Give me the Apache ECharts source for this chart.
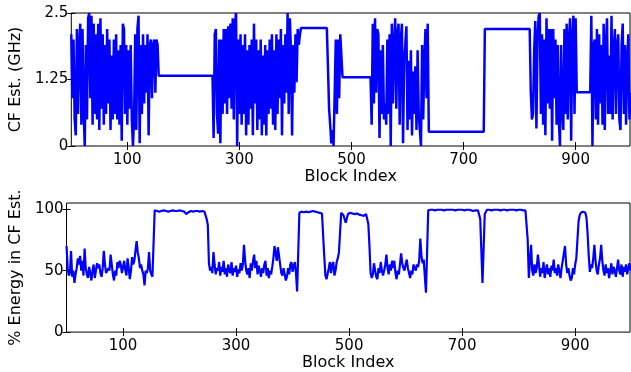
<!DOCTYPE html>
<html>
<head>
<meta charset="utf-8">
<script src="https://cdn.jsdelivr.net/npm/echarts@6/dist/echarts.min.js"></script>
<style>
html,body{margin:0;padding:0;background:#fff;}
#chart{width:631px;height:372px;}
</style>
</head>
<body>
<div id="chart"></div>
<script>
// ================= data =================
const xTickValues = [100, 300, 500, 700, 900];
const cfTickValues = [0, 1.25, 2.5];
const energyTickValues = [0, 50, 100];

// ---- CF estimate (GHz) ----
// noisy stretches: one value every 2 blocks from the given start block
const cfNoiseStart = [0, 254, 458, 536, 820, 928];
const cfNoise1 = [
  2.1,0.9,2.0,0.5,0.2,2.2,0.6,1.9,2.3,0.4, 2.2,0.7,0.0,1.9,0.5,2.4,2.5,0.9,2.45,0.4,
  2.3,0.6,2.1,0.5,2.3,0.3,2.4,0.7,2.1,0.4, 1.9,0.6,2.2,0.8,2.0,0.3,1.7,0.5,2.0,0.6,
  2.1,0.5,1.8,0.4,1.9,0.1,2.3,2.2,0.6,1.9, 0.4,1.8,0.7,1.9,0.5,0.0,0.5,2.1,0.3,2.2,
  2.45,0.05,1.9,0.6,2.1,0.8,1.9,1.0,2.1,0.2, 1.9,2.0,0.9,1.9,2.0,1.0,2.0,1.9
];
const cfNoise2 = [
  0.15,2.1,2.2,0.6,0.23,2.0,0.05,2.0,0.6,2.2, 0.8,2.2,0.6,2.25,0.9,2.3,0.7,2.4,0.5,2.3,
  2.5,0.0,2.0,0.6,2.1,0.4,1.9,0.6,2.1,0.2, 1.8,0.4,1.9,0.7,2.0,0.2,2.3,0.8,2.0,0.3,
  1.8,0.5,2.0,0.2,1.7,0.4,1.9,0.2,1.8,0.6, 2.0,0.7,2.1,0.4,1.8,0.3,2.1,0.6,2.0,0.9,
  2.2,0.2,1.9,0.8,2.1,1.0,2.5,0.6,2.4,1.8, 0.2,1.9,1.0,2.1,1.2,2.2,1.9,2.1
];
const cfNoise3 = [1.5,0.7,0.4,0.05,0.3,0.0,1.0,2.0,0.6,2.0,0.9,2.1,2.1];
const cfNoise4 = [
  0.4,2.3,0.8,2.4,1.0,2.2,2.1,0.15,1.8,0.6, 1.9,0.5,0.8,0.4,2.0,0.6,2.1,0.0,2.3,0.8,
  1.9,2.4,0.7,2.1,2.3,0.4,2.0,2.3,0.05,1.6, 1.9,2.25,0.3,1.6,0.5,1.8,0.2,1.4,0.6,1.5,
  0.3,1.8,0.6,0.3,0.0,1.9,0.5,1.6,2.2,0.9, 2.3
];
const cfNoise5 = [
  1.0,0.5,0.6,1.8,2.35,0.33,2.0,2.45,2.5,0.6, 2.1,0.4,2.0,0.2,2.4,0.8,2.2,0.7,2.2,0.1,
  2.2,0.9,2.0,0.4,1.9,0.5,0.0,1.9,0.7,0.3, 2.2,0.6,2.3,0.5,2.0,2.4,0.1,2.0,2.45,0.6,
  2.4
];
const cfNoise6 = [
  2.45,0.0,1.9,2.0,0.5,2.2,0.4,2.1,0.8,1.9, 0.4,2.3,0.3,1.9,2.4,0.6,1.7,0.6,2.45,0.5,
  1.8,2.2,0.6,1.9,2.1,0.5,0.3,1.9,2.3,0.6, 1.9,0.4,1.6,2.1,0.5,1.0
];
// constant stretches: [first block, last block, level]
const cfFlatStart = [156, 410, 484, 638, 738, 902];
const cfFlatEnd   = [252, 456, 534, 736, 818, 926];
const cfFlatLevel = [1.32, 2.22, 1.29, 0.27, 2.2, 1.01];

// ---- % energy in CF estimate ----
// noisy stretches, one value every 2 blocks
const enNoiseStart = [0, 250, 456, 534, 816];
const enNoise1 = [
  70,52,46,48,66,45,50,40,47,52, 60,55,62,50,58,46,68,52,47,44,
  53,48,42,50,55,44,50,56,52,55, 48,45,52,66,55,48,47,52,50,63,
  55,47,42,50,46,57,52,58,55,48, 53,58,50,46,60,52,43,50,61,55,
  58,66,74,65,60,52,55,50,47,38, 50,48,52,65,50,47,45,46
];
const enNoise2 = [
  87,56,50,53,48,65,55,47,52,50, 57,46,53,49,58,47,52,45,55,50,
  48,57,46,52,49,54,45,51,48,56, 50,55,71,58,50,47,52,44,56,50,
  58,63,52,58,47,54,50,45,52,48, 55,58,46,52,44,50,47,53,60,70,
  64,58,69,70,55,48,46,52,47,42, 45,52,47,55,57,49,54,57,48,33
];
const enNoise3 = [62,46,43,44,52,57,48,55,57,46,50,57,60,65,81,97];
const enNoise4 = [
  88,70,48,44,47,56,50,45,43,52, 48,57,50,46,50,55,63,52,47,55,
  50,58,52,58,48,43,50,47,55,64, 56,52,50,55,59,52,48,44,50,47,
  55,52,50,55,53,58,76,62,56,59, 45,32
];
const enNoise5 = [
  75,44,58,71,50,46,55,48,52,63, 55,45,52,48,57,44,50,55,47,52,
  45,54,50,59,48,52,46,55,50,44, 52,58,64,70,55,48,52,46,42,44,
  52,47,55,60,75,90,95,97,98,98, 98,97,93,80,62,49,55,52,60,71,
  58,50,47,55,60,71,58,50,46,55, 48,52,44,50,56,47,53,50,45,52,
  59,50,47,55,45,53,49,55,47,52, 56,50
];
// plateaus, one value every 4 blocks
const enPlateauStart = [156, 412, 490, 640, 744];
const enPlateau1 = [99,98.5,98,98.5,99,98.5,98,98.5,99,98.5,98.5,99,98.5,98,96,97.5,98.5,98,98.5,98.5,98,98.5,98,92];
const enPlateau2 = [97,98,97.5,98,97.5,98,98.5,98,97.5,97,96.5];
const enPlateau3 = [95,89,96,97,96.5,96,96.5,95.5,95,94.5,96];
const enPlateau4 = [99,99.5,99.5,99,99.5,99.5,99.5,99,99.5,99.5,99.5,99.5,99,99.5,99.5,99.5,99,99.5,99.5,99,98.5,99,99,92,40,96];
const enPlateau5 = [99.5,99.5,99,99.5,99.5,99.5,99,99.5,99.5,99,99.5,99.5,99.5,99,99.5,99.5,99,99];

// ================= build series points =================
function addSeg(out, start, step, values) {
  values.forEach((v, i) => out.push([start + i * step, v]));
}
const cfData = [];
[cfNoise1, cfNoise2, cfNoise3, cfNoise4, cfNoise5, cfNoise6].forEach((vals, k) => addSeg(cfData, cfNoiseStart[k], 2, vals));
cfFlatLevel.forEach((lv, k) => { cfData.push([cfFlatStart[k], lv]); cfData.push([cfFlatEnd[k], lv]); });
cfData.sort((a, b) => a[0] - b[0]);

const energyData = [];
[enNoise1, enNoise2, enNoise3, enNoise4, enNoise5].forEach((vals, k) => addSeg(energyData, enNoiseStart[k], 2, vals));
[enPlateau1, enPlateau2, enPlateau3, enPlateau4, enPlateau5].forEach((vals, k) => addSeg(energyData, enPlateauStart[k], 4, vals));
energyData.sort((a, b) => a[0] - b[0]);

// ================= chart =================
const FONT = 'DejaVu Sans';
const xMin = 0, xMax = 997;
const gridLeft = 63, gridRight = 1;

function xAxesFor(gi) {
  return [
    {
      gridIndex: gi, type: 'value', min: xMin, max: xMax, position: 'bottom',
      axisLine: {show: false}, splitLine: {show: false},
      axisTick: {show: true, inside: true, length: 4, customValues: xTickValues, lineStyle: {color: '#000'}},
      axisLabel: {show: true, customValues: xTickValues, color: '#000', fontSize: 15, fontFamily: FONT, margin: 7},
      name: 'Block Index', nameLocation: 'middle', nameGap: 20,
      nameTextStyle: {color: '#000', fontSize: 16, fontFamily: FONT}
    },
    {
      gridIndex: gi, type: 'value', min: xMin, max: xMax, position: 'top',
      axisLine: {show: false}, splitLine: {show: false},
      axisTick: {show: true, inside: true, length: 4, customValues: xTickValues, lineStyle: {color: '#000'}},
      axisLabel: {show: false}
    }
  ];
}
function yAxesFor(gi, min, max, ticks, name) {
  return [
    {
      gridIndex: gi, type: 'value', min: min, max: max, position: 'left',
      axisLine: {show: false}, splitLine: {show: false},
      axisTick: {show: true, inside: true, length: 4, customValues: ticks, lineStyle: {color: '#000'}},
      axisLabel: {show: true, customValues: ticks, color: '#000', fontSize: 15, fontFamily: FONT, margin: 3,
                  formatter: v => String(v)},
      name: name, nameLocation: 'middle', nameGap: 35,
      nameTextStyle: {color: '#000', fontSize: 16, fontFamily: FONT}
    },
    {
      gridIndex: gi, type: 'value', min: min, max: max, position: 'right',
      axisLine: {show: false}, splitLine: {show: false},
      axisTick: {show: true, inside: true, length: 4, customValues: ticks, lineStyle: {color: '#000'}},
      axisLabel: {show: false}
    }
  ];
}

const chart = echarts.init(document.getElementById('chart'), null, {renderer: 'canvas'});
chart.setOption({
  animation: false,
  backgroundColor: '#fff',
  grid: [
    {left: gridLeft, right: gridRight, top: 13, height: 133, show: true, borderColor: '#000', borderWidth: 1, backgroundColor: 'transparent'},
    {left: gridLeft, right: gridRight, top: 203, height: 133, show: true, borderColor: '#000', borderWidth: 1, backgroundColor: 'transparent'}
  ],
  xAxis: [].concat(xAxesFor(0), xAxesFor(1)),
  yAxis: [].concat(
    yAxesFor(0, 0, 2.5, cfTickValues, 'CF Est. (GHz)'),
    yAxesFor(1, 0, 105, energyTickValues, '% Energy in CF Est.')
  ),
  series: [
    {type: 'line', xAxisIndex: 0, yAxisIndex: 0, data: cfData, showSymbol: false, symbol: 'none',
     lineStyle: {color: '#0000ff', width: 2.5}, clip: true},
    {type: 'line', xAxisIndex: 2, yAxisIndex: 2, data: energyData, showSymbol: false, symbol: 'none',
     lineStyle: {color: '#0000ff', width: 2.2}, clip: true}
  ]
});
</script>
</body>
</html>
